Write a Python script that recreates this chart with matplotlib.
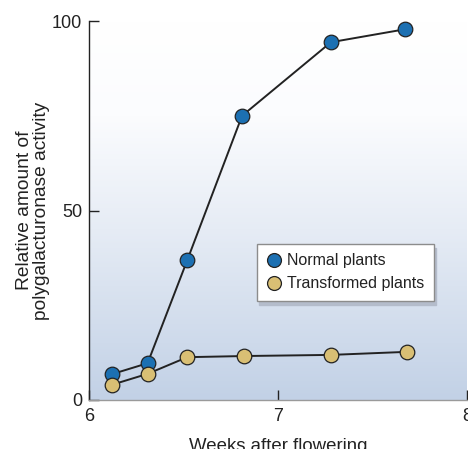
import numpy as np
import matplotlib
matplotlib.use("Agg")
import matplotlib.pyplot as plt
from matplotlib.colors import LinearSegmentedColormap

plt.rcParams['font.family'] = ['Liberation Sans', 'DejaVu Sans']

weeks_normal = [6.12, 6.31, 6.52, 6.81, 7.28, 7.67]
normal_plants = [6.8, 9.7, 36.9, 75.0, 94.4, 97.8]

weeks_transformed = [6.12, 6.31, 6.52, 6.82, 7.28, 7.68]
transformed_plants = [4.0, 6.9, 11.3, 11.6, 11.9, 12.7]

x_ticks = [6, 7, 8]
y_ticks = [0, 50, 100]

blue = '#1c70b2'
tan = '#d9bf74'
edge = '#222222'

fig = plt.figure(figsize=(4.68, 4.49), dpi=100)
ax = fig.add_axes([89 / 468, 49 / 449, 378 / 468, 379 / 449])

# soft vertical gradient behind the data: white at top, pale blue at bottom
grad_cmap = LinearSegmentedColormap.from_list(
    'bg', [(0.0, '#c2d1e6'), (0.45, '#e6ecf5'), (0.75, '#fbfcfe'), (1.0, '#ffffff')])
grad = np.linspace(0, 1, 256).reshape(-1, 1)
ax.imshow(grad, cmap=grad_cmap, origin='lower', aspect='auto',
          extent=[6, 8, 0, 100], zorder=0)

ax.plot(weeks_normal, normal_plants, '-', color=edge, lw=1.4, zorder=2)
ax.plot(weeks_transformed, transformed_plants, '-', color=edge, lw=1.4, zorder=2)
ax.plot(weeks_normal, normal_plants, 'o', ms=10.5, mfc=blue, mec=edge, mew=0.9,
        zorder=3, label='Normal plants')
ax.plot(weeks_transformed, transformed_plants, 'o', ms=10.5, mfc=tan, mec=edge, mew=0.9,
        zorder=3, label='Transformed plants')

ax.set_xlim(6, 8)
ax.set_ylim(0, 100)
ax.set_xticks(x_ticks)
ax.set_yticks(y_ticks)
ax.tick_params(direction='in', length=7, width=1, colors='#222222',
               labelsize=13, pad=5)
ax.tick_params(axis='x', pad=6)
for side in ('top', 'right'):
    ax.spines[side].set_visible(False)
for side in ('left', 'bottom'):
    ax.spines[side].set_color('#222222')
    ax.spines[side].set_linewidth(1.0)
ax.spines['bottom'].set_color('#9a9a9a')

ax.set_xlabel('Weeks after flowering', fontsize=13.4, color='#222222', labelpad=9)
ax.set_ylabel('Relative amount of\npolygalacturonase activity', fontsize=13.8,
              color='#222222', linespacing=1.05)
ax.yaxis.label.set_va('center')
ax.yaxis.set_label_coords(-0.148, 0.5)

leg = ax.legend(loc='upper left', bbox_to_anchor=(0.444, 0.412), borderaxespad=0,
                fontsize=11.5, frameon=True, fancybox=False, handletextpad=0.3,
                handlelength=1.0, borderpad=0.6, labelspacing=0.5,
                shadow={'ox': 1.5, 'oy': -3, 'color': '#b4bccb', 'alpha': 1.0})
leg.get_frame().set_edgecolor('#8c8c8c')
leg.get_frame().set_linewidth(1.0)
for h in leg.legend_handles:
    h.set_markersize(10)
for t in leg.get_texts():
    t.set_color('#222222')

fig.savefig('out.png', dpi=100)
